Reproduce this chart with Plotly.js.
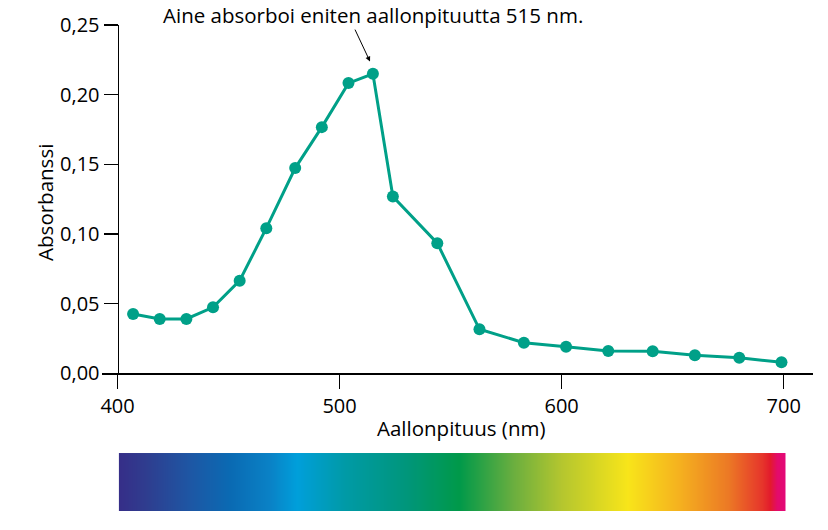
<!DOCTYPE html>
<html>
<head>
<meta charset="utf-8">
<script src="https://cdn.plot.ly/plotly-3.0.1.min.js"></script>
<style>html,body{margin:0;padding:0;background:#fff;}#chart{width:828px;height:530px;}</style>
</head>
<body>
<div id="chart"></div>
<script>
// Data
const wavelength = [407, 419, 431, 443, 455, 467, 480, 492, 504, 515, 524, 544, 563, 583, 602, 621, 641, 660, 680, 699];
const absorbance = [0.0426, 0.0390, 0.0390, 0.0474, 0.0665, 0.1042, 0.1473, 0.1767, 0.2083, 0.2150, 0.1269, 0.0934, 0.0316, 0.0220, 0.0191, 0.0160, 0.0158, 0.0129, 0.0112, 0.0079];
const xTicks = [400, 500, 600, 700];
const yTicks = [0, 0.05, 0.10, 0.15, 0.20, 0.25];

// Visible spectrum bar (wavelength stops and their colours)
const spectrumNm = [400, 412, 433, 450, 468, 480, 502, 530, 553, 577, 599, 629, 652, 674, 689, 693, 696, 700];
const spectrumColors = ['#362e88', '#2f3d8f', '#1d58a5', '#0a6ab3', '#0a82c6', '#009fdb', '#009aa6', '#00967a', '#00994a',
  '#6aae3f', '#b4c62f', '#f8e51a', '#f5b21f', '#ec7a25', '#e6362b', '#e31b2c', '#e30b6a', '#e3097a'];

const titleText = 'Aine absorboi eniten aallonpituutta 515 nm.';
const xTitle = 'Aallonpituus (nm)';
const yTitle = 'Absorbanssi';

const teal = '#00a088';
const xRange = [393, 713.2];

const colorscale = spectrumNm.map((w, i) => [(w - 400) / 300, spectrumColors[i]]);

const traces = [
  {
    type: 'scatter', mode: 'lines+markers',
    x: wavelength, y: absorbance,
    xaxis: 'x', yaxis: 'y',
    line: {color: teal, width: 3},
    marker: {color: teal, size: 12},
    hoverinfo: 'skip'
  },
  {
    type: 'heatmap',
    x: spectrumNm, y: [0.5],
    z: [spectrumNm],
    zmin: 400, zmax: 700,
    colorscale: colorscale,
    zsmooth: 'best',
    showscale: false,
    xaxis: 'x2', yaxis: 'y2',
    hoverinfo: 'skip'
  }
];

const layout = {
  width: 828, height: 530,
  margin: {l: 102, r: 15, t: 25, b: 19},
  paper_bgcolor: '#fff', plot_bgcolor: '#fff',
  font: {family: 'Open Sans, sans-serif', size: 20, color: '#000'},
  separators: ', ',
  showlegend: false,
  xaxis: {
    domain: [0, 1], range: xRange, anchor: 'y',
    showline: true, linecolor: '#000', linewidth: 1.3,
    ticks: 'outside', ticklen: 14, tickwidth: 1.3, tickcolor: '#000',
    tickvals: xTicks, showgrid: false, zeroline: false,
    tickfont: {size: 20}
  },
  yaxis: {
    domain: [0.2833, 1], range: [0, 0.25],
    anchor: 'free', position: (400 - xRange[0]) / (xRange[1] - xRange[0]),
    showline: true, linecolor: '#000', linewidth: 1.3,
    ticks: 'outside', ticklen: 14, tickwidth: 1.3, tickcolor: '#000',
    tickvals: yTicks, tickformat: '.2f', showgrid: false, zeroline: false,
    tickfont: {size: 20}
  },
  xaxis2: {domain: [0.0235, 0.9616], range: [400, 700], anchor: 'y2', visible: false, fixedrange: true},
  yaxis2: {domain: [0, 0.1193], range: [0, 1], anchor: 'x2', visible: false, fixedrange: true},
  annotations: [
    {text: titleText, xref: 'paper', yref: 'paper', x: 0.381, y: 1.0206, xanchor: 'center', yanchor: 'middle',
     showarrow: false, font: {size: 20.5}},
    {text: '', xref: 'x', yref: 'y', x: 513.7, y: 0.2238, ax: -15.7, ay: -33.4,
     showarrow: true, arrowhead: 2, arrowsize: 1, arrowwidth: 1, arrowcolor: '#000'},
    {text: xTitle, xref: 'paper', yref: 'paper', x: 0.505, y: 0.1708, xanchor: 'center', yanchor: 'middle',
     showarrow: false, font: {size: 20.5}},
    {text: yTitle, xref: 'paper', yref: 'paper', x: -0.0802, y: 0.636, xanchor: 'center', yanchor: 'middle',
     textangle: -90, showarrow: false, font: {size: 20.5}}
  ]
};

Plotly.newPlot('chart', traces, layout, {staticPlot: true, displayModeBar: false});
</script>
</body>
</html>
